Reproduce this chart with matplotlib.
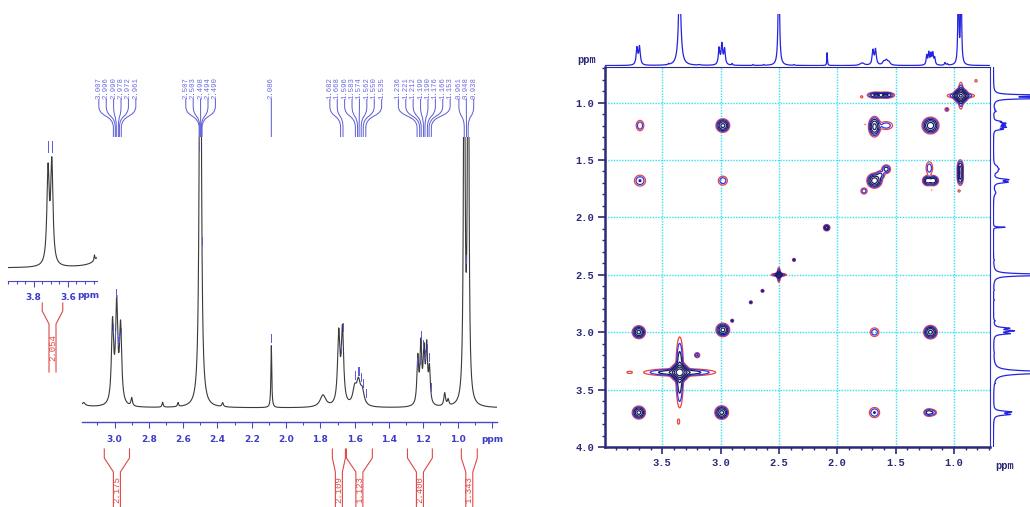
import numpy as np
import matplotlib
matplotlib.use("Agg")
import matplotlib.pyplot as plt
from matplotlib.transforms import blended_transform_factory
from matplotlib.path import Path
from matplotlib.patches import PathPatch
from matplotlib.ticker import FixedLocator, MultipleLocator

# ---------------- data ----------------
# 1D 1H spectrum lines (ppm, relative height, half width)
line_ppm = [3.716, 3.694, 3.445, 3.35, 3.18, 3.012, 2.988, 2.965, 2.900, 2.720, 2.630,
            2.500, 2.370, 2.086, 1.785, 1.693, 1.671, 1.600, 1.578, 1.556,
            1.232, 1.214, 1.196, 1.180, 1.164, 1.075, 1.055, 0.961, 0.938]
line_height = [82, 88, 5, 400, 3, 80, 98, 76, 8, 5, 4,
               600, 4, 62, 12, 70, 74, 16, 22, 14,
               46, 58, 50, 55, 34, 13, 6, 500, 520]
line_hwhm = [0.008, 0.008, 0.003, 0.012, 0.01, 0.0075, 0.0075, 0.0075, 0.005, 0.004, 0.004,
             0.006, 0.005, 0.003, 0.02, 0.008, 0.008, 0.013, 0.013, 0.013,
             0.006, 0.006, 0.006, 0.006, 0.006, 0.006, 0.005, 0.0045, 0.0045]

# peak-pick labels (groups)
label_group1 = [3.007, 2.996, 2.990, 2.978, 2.972, 2.961]
label_group2 = [2.507, 2.503, 2.498, 2.494, 2.490]
label_group3 = [2.086]
label_group4 = [1.682, 1.668, 1.596, 1.583, 1.574, 1.562, 1.550, 1.535]
label_group5 = [1.236, 1.221, 1.212, 1.199, 1.190, 1.176, 1.166, 1.153]
label_group6 = [0.961, 0.948, 0.938]
inset_labels = [3.716, 3.694]

# integrals (from ppm, to ppm, value)
int_from = [3.06, 1.73, 1.648, 1.292, 0.978]
int_to = [2.913, 1.654, 1.497, 1.147, 0.885]
int_value = ["2.175", "2.109", "1.123", "2.400", "1.343"]
inset_int = (3.75, 3.63, "2.054")

main_ticks = [3.0, 2.8, 2.6, 2.4, 2.2, 2.0, 1.8, 1.6, 1.4, 1.2, 1.0, 0.8]
main_ticklabels = ["3.0", "2.8", "2.6", "2.4", "2.2", "2.0", "1.8", "1.6", "1.4", "1.2", "1.0", "ppm"]

# COSY cross peaks: x ppm, y ppm, width x, width y, amplitude
cosy_x = [3.70, 2.98, 3.35, 3.35, 3.35, 2.50, 2.50, 2.50, 2.09, 2.37, 2.64, 2.74, 2.90, 3.20,
          1.68, 1.63, 1.58, 1.77, 1.20, 0.94, 0.94, 0.94, 1.06, 0.81,
          3.70, 2.99, 3.69, 1.21, 3.69, 1.68,
          2.98, 1.20, 2.98, 1.68,
          1.68, 1.58, 1.225, 1.175, 1.21,
          1.67, 1.58, 0.945, 0.945,
          1.79, 0.955, 1.76, 1.19, 3.78, 3.36, 1.225, 1.175]
cosy_y = [3.70, 2.98, 3.35, 3.35, 3.35, 2.50, 2.50, 2.50, 2.09, 2.37, 2.64, 2.74, 2.90, 3.20,
          1.68, 1.63, 1.58, 1.77, 1.20, 0.94, 0.94, 0.94, 1.06, 0.81,
          3.00, 3.70, 1.20, 3.70, 1.68, 3.70,
          1.20, 3.00, 1.68, 3.00,
          1.21, 1.20, 1.68, 1.68, 1.57,
          0.935, 0.935, 1.57, 1.65,
          0.95, 1.77, 1.19, 1.76, 3.35, 3.78, 3.70, 3.70]
cosy_sx = [0.024, 0.025, 0.15, 0.016, 0.03, 0.035, 0.007, 0.012, 0.013, 0.007, 0.007, 0.007, 0.007, 0.013,
           0.027, 0.02, 0.02, 0.017, 0.03, 0.06, 0.012, 0.025, 0.012, 0.011,
           0.024, 0.025, 0.02, 0.024, 0.028, 0.026,
           0.025, 0.025, 0.025, 0.024,
           0.022, 0.035, 0.02, 0.02, 0.018,
           0.035, 0.035, 0.013, 0.013,
           0.009, 0.009, 0.005, 0.005, 0.022, 0.009, 0.018, 0.018]
cosy_sy = [0.024, 0.025, 0.016, 0.15, 0.03, 0.007, 0.035, 0.012, 0.013, 0.007, 0.007, 0.007, 0.007, 0.013,
           0.027, 0.02, 0.02, 0.017, 0.03, 0.012, 0.06, 0.025, 0.012, 0.011,
           0.024, 0.025, 0.028, 0.02, 0.028, 0.026,
           0.025, 0.025, 0.025, 0.024,
           0.038, 0.022, 0.02, 0.02, 0.035,
           0.013, 0.013, 0.035, 0.035,
           0.009, 0.009, 0.005, 0.005, 0.009, 0.022, 0.014, 0.014]
cosy_amp = [1.0, 1.0, 0.5, 0.5, 3.0, 0.35, 0.35, 0.8, 0.6, 0.3, 0.3, 0.3, 0.3, 0.25,
            1.2, 0.3, 0.35, 0.2, 1.2, 0.4, 0.4, 2.0, 0.15, 0.09,
            1.0, 1.0, 0.22, 0.22, 0.25, 0.25,
            1.0, 1.0, 0.2, 0.2,
            1.0, 0.2, 0.7, 0.7, 0.2,
            0.5, 0.5, 0.5, 0.5,
            0.1, 0.1, 0.065, 0.065, 0.09, 0.09, 0.15, 0.15]
cosy_levels = [0.06, 0.12, 0.24, 0.45, 0.8, 1.4, 2.4]
cosy_ticks = [1.0, 1.5, 2.0, 2.5, 3.0, 3.5, 4.0]

# ---------------- helpers ----------------
W, H = 1030, 507
fig = plt.figure(figsize=(W / 100, H / 100), dpi=100)


def spectrum(x):
    s = np.zeros_like(x)
    for p, h, w in zip(line_ppm, line_height, line_hwhm):
        s += h / (1 + ((x - p) / w) ** 2)
    return s


def fy(py):
    return 1 - py / H


BLUE_TXT = '#3c3cc8'
LBL_COL = '#6a6ae0'
RED = '#e04848'
MONO = 'Liberation Mono'

# ---------------- left main spectrum ----------------
ax1 = fig.add_axes([82 / W, 1 - 422 / H, 415 / W, 285 / H])
xs = np.linspace(3.19, 0.77, 6000)
ax1.plot(xs, spectrum(xs), color='#3a3a3a', lw=0.8)
ax1.set_xlim(3.19, 0.77)
ax1.set_ylim(-14, 271)
for s in ['left', 'right', 'top']:
    ax1.spines[s].set_visible(False)
ax1.spines['bottom'].set_color('#4a4ac8')
ax1.spines['bottom'].set_linewidth(1.0)
ax1.set_yticks([])
ax1.xaxis.set_major_locator(FixedLocator(main_ticks))
ax1.set_xticklabels(main_ticklabels)
ax1.xaxis.set_minor_locator(MultipleLocator(0.1))
ax1.tick_params(axis='x', which='major', direction='out', length=4, width=0.8,
                color='#4a4ac8', labelcolor=BLUE_TXT, labelsize=6.5, pad=5)
ax1.tick_params(axis='x', which='minor', direction='out', length=2.5, width=0.8, color='#4a4ac8')
for t in ax1.get_xticklabels():
    t.set_fontweight('bold')

blend1 = blended_transform_factory(ax1.transData, fig.transFigure)
ppm_per_px = (3.19 - 0.77) / 415.0
spacing = 7.4 * ppm_per_px

groups = [label_group1, label_group2, label_group3, label_group4, label_group5, label_group6]
for g in groups:
    c = np.mean(g)
    n = len(g)
    for i, v in enumerate(g):
        lx = c + ((n - 1) / 2 - i) * spacing
        ax1.text(lx, fy(99), f"{v:.3f}", transform=blend1, rotation=90, ha='center',
                 va='bottom', fontsize=5.2, family=MONO, color=LBL_COL, clip_on=False,
                 linespacing=1.0)
        verts = [(lx, fy(99)), (lx, fy(106)), (lx, fy(118)), (v, fy(114)), (v, fy(128)), (v, fy(137))]
        codes = [Path.MOVETO, Path.LINETO, Path.CURVE4, Path.CURVE4, Path.CURVE4, Path.LINETO]
        ax1.add_patch(PathPatch(Path(verts, codes), transform=blend1, fill=False,
                                edgecolor='#5a5ad4', lw=0.7, clip_on=False))
        yv = spectrum(np.array([v]))[0]
        if yv + 14 < 271:
            ax1.plot([v, v], [yv + 4, yv + 12], color='#5a5ad4', lw=0.7)

# integrals
half = 3.5 * ppm_per_px
for a, b, val in zip(int_from, int_to, int_value):
    c = (a + b) / 2
    for edge, stem in [(a, c + half), (b, c - half)]:
        verts = [(edge, fy(449)), (edge, fy(458)), (stem, fy(472)), (stem, fy(512))]
        ax1.add_line(plt.Line2D([p[0] for p in verts], [p[1] for p in verts], transform=blend1,
                                color=RED, lw=0.8, clip_on=False))
    ax1.text(c, fy(490), val, transform=blend1, rotation=90, ha='center', va='center',
             fontsize=6.5, family=MONO, color=RED, clip_on=False)

# ---------------- inset ----------------
ax2 = fig.add_axes([8 / W, 1 - 281 / H, 89 / W, 141 / H])
xi = np.linspace(3.95, 3.43, 2000)
ax2.plot(xi, spectrum(xi), color='#3a3a3a', lw=0.8)
ax2.set_xlim(3.95, 3.43)
ax2.set_ylim(-11.5, 113)
for s in ['left', 'right', 'top']:
    ax2.spines[s].set_visible(False)
ax2.spines['bottom'].set_color('#4a4ac8')
ax2.set_yticks([])
ax2.xaxis.set_major_locator(FixedLocator([3.8, 3.6]))
ax2.set_xticklabels(["3.8", "3.6"])
ax2.xaxis.set_minor_locator(MultipleLocator(0.05))
ax2.tick_params(axis='x', which='major', direction='out', length=4, width=0.8,
                color='#4a4ac8', labelcolor=BLUE_TXT, labelsize=6.5, pad=5)
ax2.tick_params(axis='x', which='minor', direction='out', length=2.5, width=0.8, color='#4a4ac8')
for t in ax2.get_xticklabels():
    t.set_fontweight('bold')
blend2 = blended_transform_factory(ax2.transData, fig.transFigure)
ax2.text(3.48, fy(296), "ppm", transform=blend2, ha='center', va='center', fontsize=6.5,
         color=BLUE_TXT, fontweight='bold', clip_on=False)
for v in inset_labels:
    ax2.plot([v, v], [102, 112], color='#5a5ad4', lw=0.7, clip_on=False)
ppx2 = 0.52 / 89
a, b, val = inset_int
c = (a + b) / 2
for edge, stem in [(a, c + 3.5 * ppx2), (b, c - 3.5 * ppx2)]:
    verts = [(edge, fy(303)), (edge, fy(311)), (stem, fy(324)), (stem, fy(372))]
    ax2.add_line(plt.Line2D([p[0] for p in verts], [p[1] for p in verts], transform=blend2,
                            color=RED, lw=0.8, clip_on=False))
ax2.text(c, fy(348), val, transform=blend2, rotation=90, ha='center', va='center',
         fontsize=6.5, family=MONO, color=RED, clip_on=False)

# ---------------- COSY ----------------
NAVY = '#2a2a78'
ax3 = fig.add_axes([605 / W, 1 - 447 / H, 385 / W, 380 / H])
g = np.linspace(0.69, 4.0, 900)
X, Y = np.meshgrid(g, g)
Z = np.zeros_like(X)
for cx, cy, sx, sy, am in zip(cosy_x, cosy_y, cosy_sx, cosy_sy, cosy_amp):
    Z += am * np.exp(-((X - cx) ** 2 / (2 * sx ** 2) + (Y - cy) ** 2 / (2 * sy ** 2)))
cols = ['#e8463f', '#3535f0', '#1c1c60', '#1c1c60', '#1c1c60', '#1c1c60', '#1c1c60']
ax3.contour(X, Y, Z, levels=cosy_levels, colors=cols, linewidths=0.9, zorder=3)
ax3.set_xlim(3.99, 0.69)
ax3.set_ylim(4.0, 0.69)
ax3.xaxis.set_major_locator(FixedLocator(cosy_ticks))
ax3.yaxis.set_major_locator(FixedLocator(cosy_ticks))
ax3.xaxis.set_minor_locator(MultipleLocator(0.1))
ax3.yaxis.set_minor_locator(MultipleLocator(0.1))
ax3.grid(True, which='major', color='#30e0f0', linestyle=(0, (1, 1)), lw=1.0, zorder=1)
ax3.set_axisbelow(True)
ax3.tick_params(which='major', direction='out', length=5, width=1.2, color=NAVY,
                labelcolor=NAVY, labelsize=7.5, pad=3)
ax3.tick_params(which='minor', direction='out', length=2.5, width=1.0, color=NAVY)
for t in ax3.get_xticklabels() + ax3.get_yticklabels():
    t.set_family(MONO)
    t.set_fontweight('bold')
ax3.spines['left'].set_linewidth(1.8)
ax3.spines['bottom'].set_linewidth(1.8)
ax3.spines['left'].set_color(NAVY)
ax3.spines['bottom'].set_color(NAVY)
ax3.spines['top'].set_linewidth(0.8)
ax3.spines['top'].set_color(NAVY)
ax3.spines['right'].set_linewidth(0.8)
ax3.spines['right'].set_color('#3030d0')
fig.text(577 / W, fy(60), "ppm", fontsize=7.5, family=MONO, fontweight='bold', color=NAVY,
         ha='left', va='center')
fig.text(1005 / W, fy(466), "ppm", fontsize=7.5, family=MONO, fontweight='bold', color=NAVY,
         ha='center', va='center')

# projections
xp = np.linspace(0.69, 4.0, 8000)
ax4 = fig.add_axes([605 / W, 1 - 66 / H, 385 / W, 52 / H])
ax4.plot(xp, spectrum(xp), color='#2424e0', lw=0.9)
ax4.set_xlim(3.99, 0.69)
ax4.set_ylim(-2, 250)
ax4.axis('off')

ax5 = fig.add_axes([993 / W, 1 - 447 / H, 37 / W, 380 / H])
ax5.plot(spectrum(xp), xp, color='#2424e0', lw=0.9)
ax5.set_ylim(4.0, 0.69)
ax5.set_xlim(-2, 195)
ax5.axis('off')

fig.savefig("out.png", dpi=100)
